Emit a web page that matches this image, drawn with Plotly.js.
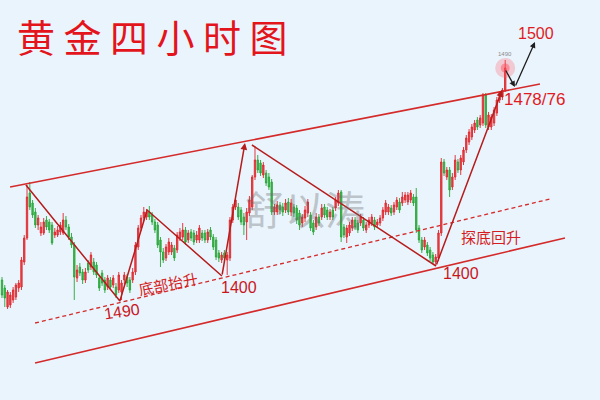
<!DOCTYPE html>
<html>
<head>
<meta charset="utf-8">
<script src="https://cdn.plot.ly/plotly-3.0.1.min.js"></script>
<style>html,body{margin:0;padding:0;background:#eaf4fc;}#chart{width:600px;height:400px;}</style>
</head>
<body>
<div id="chart"></div>
<script>
// ---- Candle data (4-hour bars) ----
const openP = [
1320,1312,1293,1295,1300,1303,1312,1313,1338,1362,1407,1397,1388,1375,1367,1367,1380,1378,1375,1365,1365,1368,1367,1380,1373,1363,1355,1322,1333,1328,1320,1337,1333,1338,1335,1322,
1327,1320,1313,1320,1315,1313,1310,1308,1320,1323,1320,1320,1328,1353,1372,1382,1383,1388,1385,1378,1375,1360,1348,1342,1348,1348,1352,1350,1362,1363,1370,1360,1368,1367,
1360,1360,1367,1367,1360,1370,1363,1360,1347,1340,1347,1340,1342,1380,1393,1393,1390,1383,1378,1387,1393,1423,1440,1437,1425,1427,1423,1418,1388,1388,1395,1393,1390,1398,
1388,1393,1392,1387,1377,1382,1387,1385,1377,1373,1383,1383,1393,1390,1383,1390,1392,1397,1408,1373,1363,1367,1372,1380,1377,1377,1380,1370,1375,1377,1380,1375,1377,1382,
1388,1388,1392,1388,1393,1398,1397,1400,1398,1400,1403,1403,1372,1360,1353,1355,1350,1345,1338,1342,1367,1438,1423,1430,1413,1423,1438,1430,
1438,1450,1458,1463,1470,1480,1475,1477,1505,1473,1473,1477,1487,1500,1503,1510
];
const closeP = [
1305,1302,1308,1305,1310,1315,1317,1340,1362,1403,1393,1385,1375,1382,1373,1378,1373,1370,1357,1368,1370,1375,1380,1373,1363,1355,1323,1330,1327,1320,1328,1330,1345,1328,1325,1312,
1317,1310,1322,1313,1322,1305,1325,1317,1325,1317,1310,1328,1355,1372,1382,1388,1388,1383,1378,1370,1355,1348,1340,1353,1358,1355,1342,1365,1368,1370,1358,1367,1362,1358,
1365,1372,1362,1360,1368,1363,1353,1343,1342,1345,1342,1345,1380,1393,1400,1383,1378,1375,1388,1400,1423,1440,1430,1427,1435,1417,1413,1388,1393,1395,1390,1388,1397,1388,
1397,1387,1380,1375,1383,1390,1398,1372,1368,1383,1377,1392,1385,1383,1388,1383,1400,1407,1363,1365,1372,1375,1380,1373,1370,1383,1372,1375,1380,1383,1373,1378,1382,1390,
1397,1393,1387,1395,1400,1390,1403,1405,1405,1407,1397,1370,1360,1350,1360,1347,1342,1338,1343,1367,1438,1427,1430,1410,1423,1440,1430,1442,
1450,1462,1468,1473,1477,1473,1482,1505,1475,1485,1483,1490,1500,1507,1510,1532
];
const highP = [
1323,1315,1310,1308,1313,1317,1320,1343,1365,1415,1418,1400,1392,1385,1378,1382,1384,1381,1378,1372,1374,1378,1387,1384,1376,1367,1358,1335,1337,1331,1332,1340,1348,1342,1338,1325,
1330,1323,1325,1323,1325,1317,1328,1320,1328,1326,1323,1332,1358,1375,1385,1393,1391,1394,1388,1381,1378,1363,1352,1356,1362,1358,1355,1368,1372,1377,1373,1370,1371,1370,
1369,1375,1370,1370,1371,1373,1366,1363,1350,1348,1350,1348,1383,1396,1404,1397,1393,1387,1392,1404,1425,1454,1445,1440,1438,1430,1427,1421,1396,1399,1398,1397,1401,1402,
1401,1396,1395,1390,1386,1394,1401,1388,1380,1387,1386,1396,1396,1393,1391,1393,1403,1410,1410,1376,1375,1378,1383,1383,1380,1386,1383,1378,1383,1386,1383,1381,1385,1393,
1400,1396,1395,1398,1403,1402,1408,1408,1408,1410,1406,1412,1375,1363,1363,1358,1353,1348,1346,1370,1442,1441,1433,1433,1427,1445,1441,1445,
1453,1465,1471,1476,1480,1483,1485,1507,1507,1488,1486,1493,1503,1509,1512,1540
];
const lowP = [
1302,1293,1291,1292,1297,1300,1308,1310,1335,1360,1390,1382,1372,1370,1364,1365,1370,1367,1355,1362,1363,1365,1365,1370,1360,1352,1300,1318,1324,1316,1317,1327,1330,1325,1322,1309,
1314,1307,1310,1310,1312,1302,1307,1300,1316,1313,1307,1317,1325,1350,1369,1379,1380,1380,1375,1367,1352,1333,1337,1339,1345,1345,1339,1347,1359,1360,1355,1357,1359,1355,
1357,1357,1359,1357,1357,1360,1350,1340,1338,1337,1338,1325,1339,1377,1390,1380,1375,1365,1360,1384,1390,1420,1427,1424,1422,1414,1410,1385,1385,1385,1386,1384,1387,1385,
1384,1383,1376,1370,1373,1378,1383,1369,1365,1370,1374,1380,1382,1380,1380,1380,1389,1394,1358,1362,1357,1364,1369,1370,1367,1374,1369,1367,1372,1374,1370,1372,1374,1379,
1385,1385,1384,1385,1390,1387,1394,1397,1395,1397,1394,1367,1357,1347,1350,1344,1339,1336,1334,1339,1364,1424,1420,1403,1410,1420,1427,1425,
1435,1447,1455,1460,1467,1470,1472,1474,1472,1470,1470,1474,1484,1497,1500,1508
];
const barIndex = openP.map((_, i) => i);

// ---- Drawn trend lines (bar index, price) ----
const upperChannelX = [2.9, 193.5],  upperChannelY = [1413, 1516];
const lowerChannelX = [11.9, 202.5], lowerChannelY = [1237, 1362];
const midChannelX   = [11.9, 197.1], midChannelY   = [1277, 1401];
const wave1X = [8.6, 42.4, 52.2, 79.1], wave1Y = [1415, 1299, 1390, 1324];
const wave1ArrowX = [79.1, 87.4],       wave1ArrowY = [1324, 1457];
const wave2X = [89.9, 156.1],           wave2Y = [1455, 1334];
const wave2ArrowX = [156.1, 179.9],     wave2ArrowY = [1334, 1510];
const forecastX = [180.9, 184.5, 191.7], forecastY = [1531, 1513, 1558];
const spikeX = [181], spikeY = [1532];

// ---- Texts ----
const titleText = '黄 金 四 小 时 图';
const labels = ['1490', '1400', '1400', '1478/76', '1500', '1490', '底部抬升', '探底回升'];
const watermark = '舒以涛';

const RED = '#d42a2a', DARK = '#b51c1c';
const traces = [
  {type:'scatter', mode:'lines', x:lowerChannelX, y:lowerChannelY, line:{color:RED, width:1.6}, hoverinfo:'skip'},
  {type:'scatter', mode:'lines', x:upperChannelX, y:upperChannelY, line:{color:RED, width:1.6}, hoverinfo:'skip'},
  {type:'scatter', mode:'lines', x:midChannelX, y:midChannelY, line:{color:RED, width:1.3, dash:'4px,3px'}, hoverinfo:'skip'},
  {type:'candlestick', x:barIndex, open:openP, high:highP, low:lowP, close:closeP,
   increasing:{line:{color:'rgba(222,40,45,0.9)', width:1}, fillcolor:'rgba(228,55,60,0.9)'},
   decreasing:{line:{color:'rgba(40,165,55,0.9)', width:1}, fillcolor:'rgba(50,175,65,0.9)'},
   whiskerwidth:0, hoverinfo:'skip'},
  {type:'scatter', mode:'lines', x:wave1X, y:wave1Y, line:{color:DARK, width:1.5}, hoverinfo:'skip'},
  {type:'scatter', mode:'lines', x:wave2X, y:wave2Y, line:{color:DARK, width:1.5}, hoverinfo:'skip'},
  {type:'scatter', mode:'markers', x:spikeX, y:spikeY, marker:{size:20, color:'rgba(255,90,105,0.28)'}, hoverinfo:'skip'},
  {type:'scatter', mode:'markers', x:spikeX, y:spikeY, marker:{size:9, color:'rgba(255,70,85,0.45)'}, hoverinfo:'skip'}
];

function arrow(xs, ys, color, w){
  return {x:xs[1], y:ys[1], ax:xs[0], ay:ys[0], xref:'x', yref:'y', axref:'x', ayref:'y',
          showarrow:true, arrowhead:2, arrowsize:0.9, arrowwidth:w, arrowcolor:color, text:''};
}
const P = (px) => px/600, Q = (py) => 1 - py/400;
function label(text, x, y, size, color, angle, family, weight){
  return {text:text, x:P(x), y:Q(y), xref:'paper', yref:'paper', xanchor:'center', yanchor:'middle',
          showarrow:false, textangle:angle||0,
          font:{size:size, color:color, family:family||'Liberation Sans, Arial, sans-serif', weight:weight||'normal'}};
}
const CJK = 'Noto Sans CJK SC, sans-serif';
const annotations = [
  arrow(wave1ArrowX, wave1ArrowY, DARK, 1.5),
  arrow(wave2ArrowX, wave2ArrowY, DARK, 1.5),
  arrow(forecastX.slice(0,2), forecastY.slice(0,2), '#1e1e1e', 1.3),
  arrow(forecastX.slice(1,3), forecastY.slice(1,3), '#1e1e1e', 1.3),
  label(watermark, 305, 208, 40, 'rgba(105,105,105,0.35)', 0, CJK),
  label(titleText, 152, 36, 38, '#e3141c', 0, CJK),
  label(labels[0], 122, 311, 16, '#c8161e', -8),
  label(labels[1], 239, 287, 16, '#c8161e'),
  label(labels[2], 461, 273, 16, '#c8161e'),
  label(labels[3], 534, 99, 17, '#e01a22'),
  label(labels[4], 536, 34, 16, '#e01a22'),
  label(labels[5], 505, 54, 6, '#8a8a8a'),
  label(labels[6], 168, 283, 15, '#d41c22', -11, CJK),
  label(labels[7], 491, 236, 15, '#d41c22', 0, CJK)
];

const layout = {
  width:600, height:400, autosize:false,
  margin:{l:0, r:0, t:0, b:0, pad:0},
  paper_bgcolor:'#eaf4fc', plot_bgcolor:'#eaf4fc',
  showlegend:false,
  xaxis:{range:[-0.72, 215.1], visible:false, rangeslider:{visible:false}, fixedrange:true},
  yaxis:{range:[1200, 1600], visible:false, fixedrange:true},
  annotations:annotations
};
Plotly.newPlot('chart', traces, layout, {staticPlot:true, displayModeBar:false});
</script>
</body>
</html>
